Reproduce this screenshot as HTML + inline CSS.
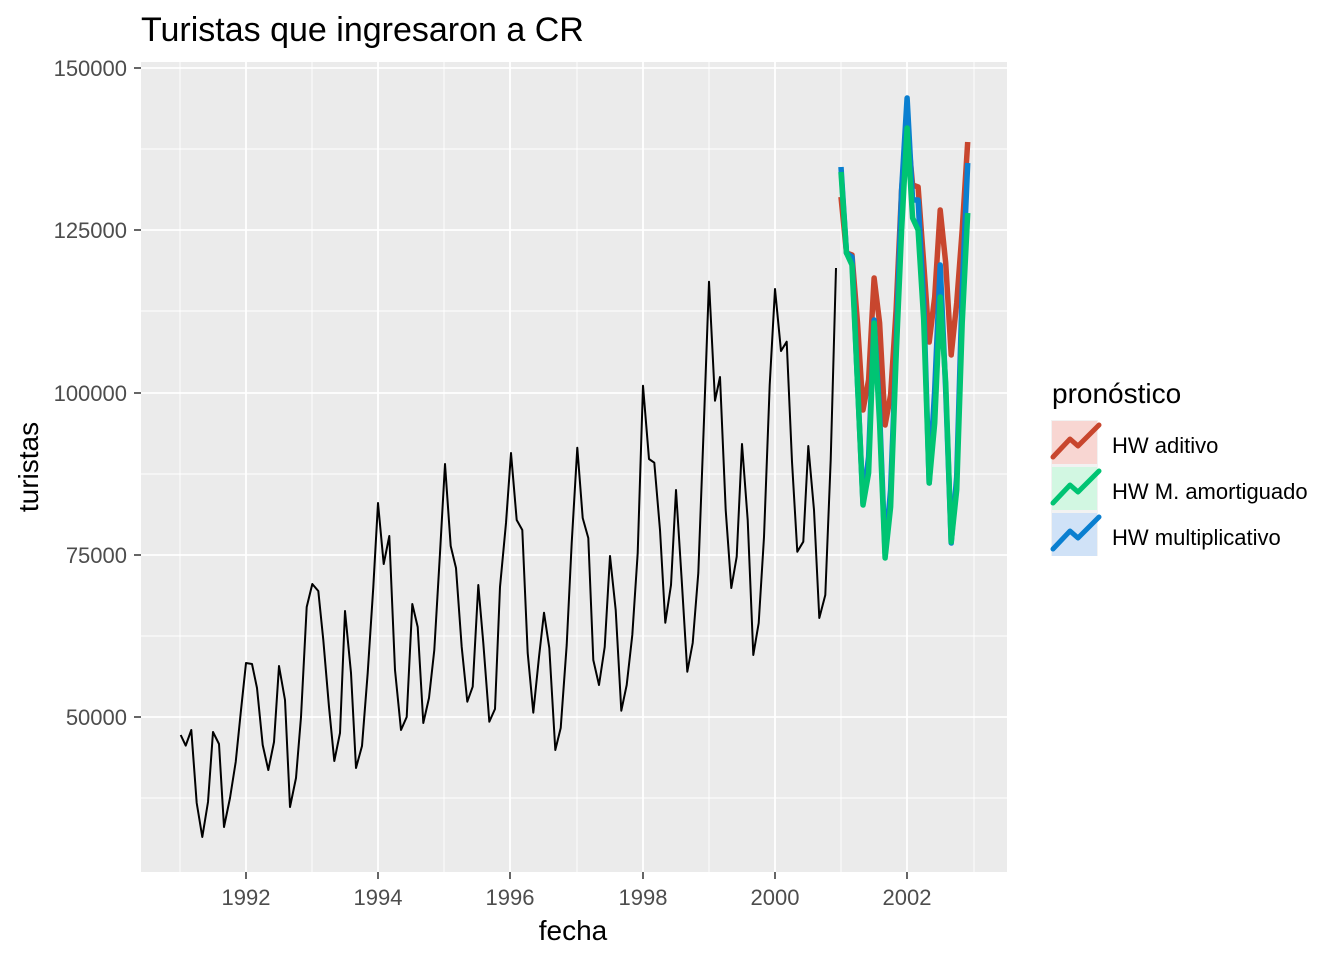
<!DOCTYPE html>
<html><head><meta charset="utf-8"><style>body{margin:0;background:#fff}svg{display:block}text{font-family:"Liberation Sans",Arial,sans-serif}</style></head>
<body>
<svg width="1344" height="960" xmlns="http://www.w3.org/2000/svg">
<rect width="1344" height="960" fill="#fff"/>
<rect x="141" y="62" width="866" height="810" fill="#ebebeb"/>
<g stroke="#fff" stroke-width="0.9">
<line x1="141" x2="1007" y1="149" y2="149"/><line x1="141" x2="1007" y1="311" y2="311"/><line x1="141" x2="1007" y1="474" y2="474"/><line x1="141" x2="1007" y1="636" y2="636"/><line x1="141" x2="1007" y1="798" y2="798"/>
<line y1="62" y2="872" x1="180" x2="180"/><line y1="62" y2="872" x1="312" x2="312"/><line y1="62" y2="872" x1="444" x2="444"/><line y1="62" y2="872" x1="577" x2="577"/><line y1="62" y2="872" x1="709" x2="709"/><line y1="62" y2="872" x1="841" x2="841"/><line y1="62" y2="872" x1="974" x2="974"/>
</g>
<g stroke="#fff" stroke-width="1.8">
<line x1="141" x2="1007" y1="68" y2="68"/><line x1="141" x2="1007" y1="230" y2="230"/><line x1="141" x2="1007" y1="393" y2="393"/><line x1="141" x2="1007" y1="555" y2="555"/><line x1="141" x2="1007" y1="717" y2="717"/>
<line y1="62" y2="872" x1="246" x2="246"/><line y1="62" y2="872" x1="378" x2="378"/><line y1="62" y2="872" x1="510" x2="510"/><line y1="62" y2="872" x1="643" x2="643"/><line y1="62" y2="872" x1="775" x2="775"/><line y1="62" y2="872" x1="907" x2="907"/>
</g>
<polyline fill="none" stroke="#000" stroke-width="2" stroke-linejoin="round" points="180.7,735 185.7,745.6 191.3,730 196.7,803 202.3,837 208,802 213,732 219,744 224,827 230,798 235.7,762 240.7,713 246,663 252,664 257,688 262.7,745 268.3,770 274,742 279,666 285,700 290,807 296,778 301,717 306.7,607 312.3,584 318.3,591 323.3,640 329,707 334.3,761 340,733 345,611 351,673 356,768 362,746 367.7,673 373.3,587 378,503 383.7,564 389.3,536 395,670 401,730 406.7,717 412.3,604 417.7,627 423.3,723 429,698 434.3,650 440,553 445,464 450.7,546 456,568 461.7,647 467.3,701.7 472.7,686.7 478.3,585 483.3,643 489.3,721.7 495,709 500,587 506,523 511,453 516.7,520 522.3,530 527.7,653 533.3,712.7 539,657 544,612.7 549.3,648 555.3,750 560.7,728 566.7,645 571.7,543 577.3,447.7 582.7,518 588.3,538 593.3,660 599,685 604.7,647 610,556 615.7,610 621.3,710.7 626.7,685 632.3,635 637.7,553 643,385.7 649,459 654.3,462.7 660,530 665.3,622.7 671,585 676,490 681.7,580 687.3,671.7 692.7,643 698.3,573 704,420 709,281.7 715,400.7 720,377 725.7,510 731.3,588 736.7,556.7 742,444 747.7,520 753.3,655 758.7,623 764,537 769.7,385 775,289 781,351 786.7,341.7 792,461.7 797.3,551.7 803.3,541.7 808.3,446 814,510 819.3,618 825.3,595 830.7,460 836,268"/>
<g fill="none" stroke-width="5.5" stroke-linejoin="round">
<polyline stroke="#c8462e" points="841,197 846.5,253 852,255 857.5,323 863,410 868.6,380 874.1,278 879.6,323 885.1,425 890.6,395 896.1,310 901.6,190 907.1,125 912.6,185 918.1,187 923.7,263 929.2,342 934.7,297 940.2,210 945.7,263 951.2,355 956.7,303 962.2,230 967.7,142"/>
<polyline stroke="#0a7fd0" points="841,167 846.5,253 852,257 857.5,383 863,503 868.6,457 874.1,320 879.6,413 885.1,553 890.6,490 896.1,350 901.6,190 907.1,98 912.6,200 918.1,200 923.7,303 929.2,483 934.7,390 940.2,265 945.7,390 951.2,543 956.7,477 962.2,290 967.7,163"/>
<polyline stroke="#00c473" points="841,172 846.5,253 852,265 857.5,383 863,505 868.6,473 874.1,323 879.6,423 885.1,558 890.6,507 896.1,357 901.6,230 907.1,128 912.6,218 918.1,230 923.7,320 929.2,483 934.7,423 940.2,297 945.7,383 951.2,542 956.7,490 962.2,323 967.7,213"/>
</g>
<g stroke="#333" stroke-width="1.5">
<line x1="134" x2="141" y1="68" y2="68"/><line x1="134" x2="141" y1="230" y2="230"/><line x1="134" x2="141" y1="393" y2="393"/><line x1="134" x2="141" y1="555" y2="555"/><line x1="134" x2="141" y1="717" y2="717"/>
<line y1="872" y2="879" x1="246" x2="246"/><line y1="872" y2="879" x1="378" x2="378"/><line y1="872" y2="879" x1="510" x2="510"/><line y1="872" y2="879" x1="643" x2="643"/><line y1="872" y2="879" x1="775" x2="775"/><line y1="872" y2="879" x1="907" x2="907"/>
</g>
<g fill="#4d4d4d" font-size="22" text-anchor="end">
<text x="127" y="76">150000</text><text x="127" y="238">125000</text><text x="127" y="401">100000</text><text x="127" y="563">75000</text><text x="127" y="725">50000</text>
</g>
<g fill="#4d4d4d" font-size="22" text-anchor="middle">
<text x="246" y="905">1992</text><text x="378" y="905">1994</text><text x="510" y="905">1996</text><text x="643" y="905">1998</text><text x="775" y="905">2000</text><text x="907" y="905">2002</text>
</g>
<text x="573" y="940" font-size="28" text-anchor="middle" fill="#000">fecha</text>
<text transform="translate(38,467) rotate(-90)" font-size="28" text-anchor="middle" fill="#000">turistas</text>
<text x="141" y="41" font-size="34" fill="#000">Turistas que ingresaron a CR</text>
<text x="1052" y="403" font-size="28" fill="#000">pronóstico</text>
<rect x="1051" y="420" width="47" height="136" fill="#f2f2f2"/>
<rect x="1052" y="421" width="45" height="43" fill="#f8d6d2"/>
<rect x="1052" y="467" width="45" height="43" fill="#d2f7e2"/>
<rect x="1052" y="513" width="45" height="43" fill="#d0e2f7"/>
<g fill="none" stroke-width="5" stroke-linecap="round" stroke-linejoin="round">
<polyline stroke="#c8462e" points="1053,457 1070,439 1078,446 1099,425"/>
<polyline stroke="#00c473" points="1053,503 1070,485 1078,492 1099,471"/>
<polyline stroke="#0a7fd0" points="1053,549 1070,531 1078,538 1099,517"/>
</g>
<g fill="#000" font-size="22">
<text x="1112" y="453">HW aditivo</text><text x="1112" y="499">HW M. amortiguado</text><text x="1112" y="545">HW multiplicativo</text>
</g>
</svg>
</body></html>
